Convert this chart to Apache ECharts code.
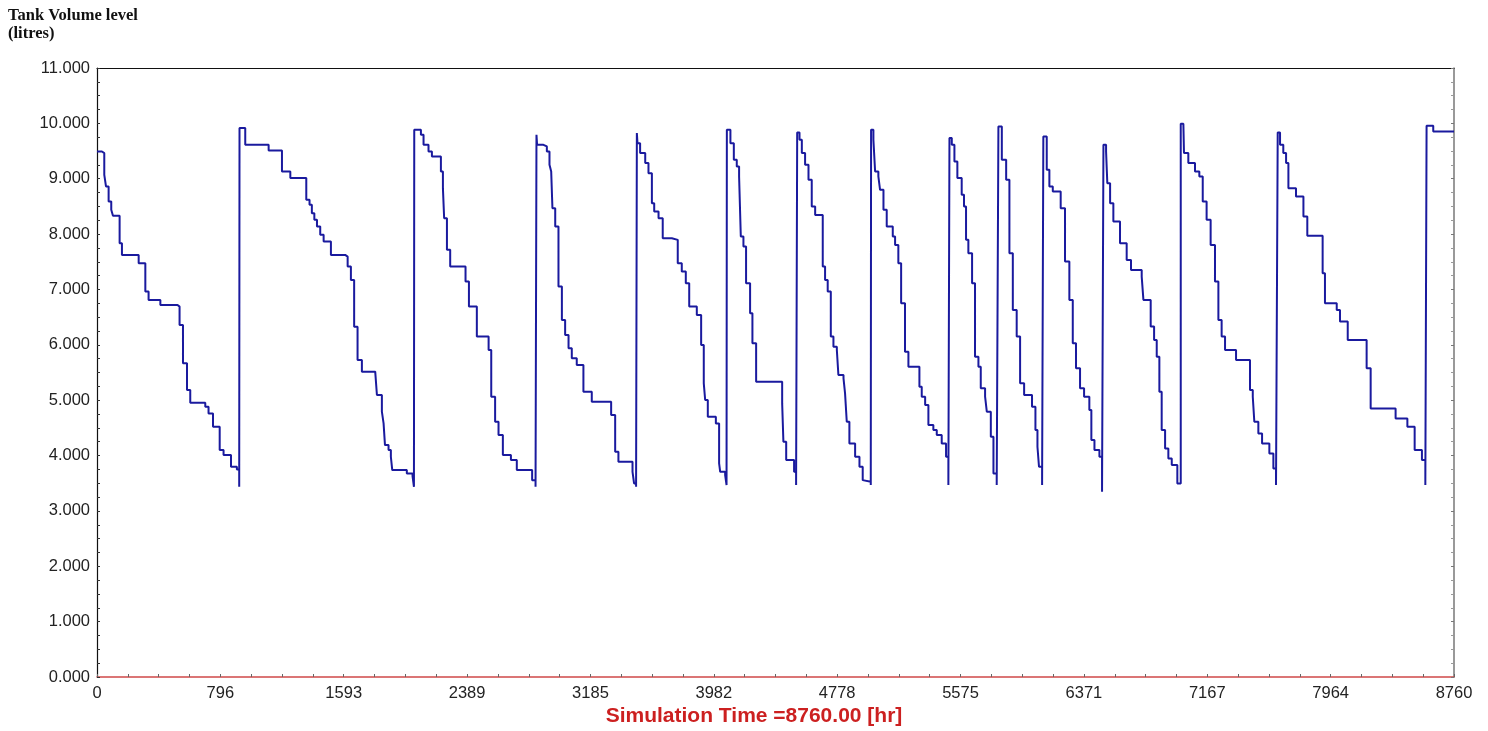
<!DOCTYPE html>
<html>
<head>
<meta charset="utf-8">
<script src="https://cdn.jsdelivr.net/npm/echarts@6/dist/echarts.min.js"></script>
<style>
html,body{margin:0;padding:0;background:#fff;}
#chart{width:1488px;height:731px;}
</style>
</head>
<body>
<div id="chart"></div>
<script>
// Time of each level change (hours)
const hours = [
  0,32,47,58,75,92,103,146,161,269,312,333,409,520,533,555,581,602,699,720,749,792,817,865,903,918,
  920,957,1108,1194,1248,1351,1372,1387,1403,1420,1441,1463,1510,1602,1618,1639,1660,1682,1710,1796,1807,1839,1850,1859,1882,1897,1906,2000,2037,2046,
  2048,2091,2108,2140,2162,2220,2233,2241,2259,2280,2379,2401,2452,2528,2545,2570,2592,2620,2672,2710,2809,2831,
  2837,2841,2882,2904,2921,2932,2940,2958,2979,3001,3022,3044,3065,3097,3140,3194,3319,3345,3366,3457,3467,3480,
  3485,3489,3506,3539,3560,3582,3597,3625,3652,3711,3749,3775,3801,3823,3872,3900,3917,3926,3943,3995,4016,4023,4055,4064,
  4066,4089,4111,4130,4145,4156,4173,4190,4216,4231,4255,4423,4431,4449,4500,4513,
  4520,4535,4550,4571,4593,4614,4636,4685,4700,4717,4737,4754,4776,4786,4819,4829,4840,4857,4894,4922,4943,4948,4995,
  4997,5012,5023,5044,5055,5077,5098,5137,5152,5173,5191,5216,5238,5309,5324,5346,5367,5399,5421,5453,5481,5496,
  5503,5518,5535,5554,5582,5597,5610,5625,5649,5668,5690,5705,5733,5744,5770,5787,5808,
  5819,5841,5869,5890,5912,5937,5959,5985,6036,6058,6071,6081,6101,
  6109,6131,6148,6170,6221,6249,6277,6299,6320,6346,6372,6406,6419,6439,6471,6488,
  6497,6514,6522,6540,6561,6604,6647,6675,6744,6755,6802,6824,6841,6858,6873,6895,6916,6938,6974,
  6996,7013,7017,7045,7088,7116,7138,7163,7189,7217,7239,7260,7282,7353,7443,7461,7471,7497,7521,7568,7594,7611,
  7622,7637,7658,7676,7691,7740,7788,7813,7912,7927,8003,8024,8074,8196,8222,8383,8459,8506,8553,8575,
  8583,8626,8760
];
// Tank volume after each change (litres)
const litres = [
  9492,9463,9071,8860,8589,8438,8330,7835,7624,7474,6961,6811,6720,6690,6359,5666,5183,4954,4882,4761,4520,4099,4008,3797,3749,3436,
  9915,9613,9510,9131,9011,8619,8528,8378,8257,8137,7986,7865,7624,7594,7413,7172,6328,5726,5515,5485,5093,4792,4581,4189,4099,3978,3737,3677,3628,3436,
  9884,9794,9613,9493,9402,9131,8830,8287,7715,7413,7142,6690,6148,5907,5063,4611,4370,4008,3918,3737,3556,3436,
  9794,9613,9583,9493,9252,9131,8468,8137,7052,6449,6178,5937,5756,5636,5153,4973,4731,4069,3888,3707,3496,3436,
  9824,9643,9463,9282,9101,8558,8408,8287,7926,7896,7474,7323,7112,6690,6540,5997,5304,5003,4701,4581,3858,3707,3646,3466,
  9884,9643,9342,9221,9041,7956,7775,7112,6570,6027,5334,4942,4249,3918,3707,3466,
  9836,9704,9463,9252,8980,8498,8347,7413,7172,6961,6148,5967,5907,5455,5394,5123,4611,4219,3978,3797,3556,3526,3466,
  9884,9704,9131,9041,8799,8438,8137,7956,7805,7474,6750,5877,5605,5244,5063,4912,4551,4460,4370,4219,3978,3466,
  9734,9613,9312,9011,8709,8498,7896,7655,7112,5786,5605,5214,5063,4792,4340,3677,3466,
  9945,9342,8980,7655,6630,6148,5304,5093,4882,4460,4159,3797,3466,
  9764,9161,8860,8769,8468,7504,6811,6027,5575,5214,5063,4822,4279,4099,3978,3345,
  9613,9493,8920,8558,8227,7835,7534,7353,7233,6811,6329,6088,5786,5153,4460,4128,3948,3827,3496,
  9993,9975,9463,9282,9131,9041,8588,8257,7805,7142,6449,6148,5907,5726,5183,5063,4611,4400,4219,4038,3767,3466,
  9836,9613,9463,9282,8830,8679,8318,7968,7293,6750,6630,6419,6088,5575,4852,4671,4521,4099,3918,3466,
  9957,9854,9854
];
const xTickLabels = ['0','796','1593','2389','3185','3982','4778','5575','6371','7167','7964','8760'];
const yTickLabels = ['0.000','1.000','2.000','3.000','4.000','5.000','6.000','7.000','8.000','9.000','10.000','11.000'];
const xMax = 8760;
const yMax = 11000;
const yStep = 1000;
const titleText = 'Tank Volume level\n(litres)';
const xName = 'Simulation Time =8760.00 [hr]';

const xStep = xMax / (xTickLabels.length - 1);
const data = hours.map((h, i) => [h, litres[i]]);

const chart = echarts.init(document.getElementById('chart'), null, {renderer: 'canvas'});
const labelFont = {fontFamily: 'Liberation Sans, Arial, sans-serif', fontSize: 16.5, color: '#222'};

chart.setOption({
  animation: false,
  backgroundColor: '#fff',
  title: {
    text: titleText,
    left: 3, top: 2,
    textStyle: {fontFamily: 'Liberation Serif, Times New Roman, serif', fontWeight: 'bold', fontSize: 16.5, lineHeight: 18, color: '#111'}
  },
  graphic: [{
    type: 'text', x: 754, y: 716,
    style: {text: xName, fill: '#cc2020', font: 'bold 21px "Liberation Sans", Arial, sans-serif', textAlign: 'center', textVerticalAlign: 'middle'}
  }],
  grid: {left: 97, right: 34, top: 68, bottom: 54, containLabel: false},
  xAxis: [{
    type: 'value', min: 0, max: xMax, interval: xStep,
    axisLine: {show: true, lineStyle: {color: '#d04848', width: 1.5}},
    axisTick: {show: true, inside: true, length: 3, lineStyle: {color: '#666'}},
    minorTick: {show: true, splitNumber: 4, length: 3, lineStyle: {color: '#666'}},
    splitLine: {show: false},
    axisLabel: Object.assign({margin: 8, formatter: v => xTickLabels[Math.round(v / xStep)] ?? ''}, labelFont)
  }, {
    type: 'value', min: 0, max: xMax, position: 'top',
    axisLine: {show: true, onZero: false, lineStyle: {color: '#111', width: 1.2}},
    axisTick: {show: false}, axisLabel: {show: false}, splitLine: {show: false}
  }],
  yAxis: [{
    type: 'value', min: 0, max: yMax, interval: yStep,
    axisLine: {show: true, onZero: false, lineStyle: {color: '#111', width: 1.2}},
    axisTick: {show: true, inside: true, length: 3, lineStyle: {color: '#333'}},
    minorTick: {show: true, splitNumber: 4, length: 3, lineStyle: {color: '#333'}},
    splitLine: {show: false},
    axisLabel: Object.assign({margin: 7, formatter: v => yTickLabels[Math.round(v / yStep)] ?? ''}, labelFont)
  }, {
    type: 'value', min: 0, max: yMax, interval: yStep, position: 'right',
    axisLine: {show: true, onZero: false, lineStyle: {color: '#777', width: 1.5}},
    axisTick: {show: true, inside: true, length: 3, lineStyle: {color: '#777'}},
    minorTick: {show: true, splitNumber: 4, length: 3, lineStyle: {color: '#999'}},
    axisLabel: {show: false}, splitLine: {show: false}
  }],
  series: [{
    type: 'line', step: 'end', data: data, showSymbol: false, symbol: 'none',
    lineStyle: {color: '#1a1a9e', width: 2}, xAxisIndex: 0, yAxisIndex: 0
  }]
});
</script>
</body>
</html>
